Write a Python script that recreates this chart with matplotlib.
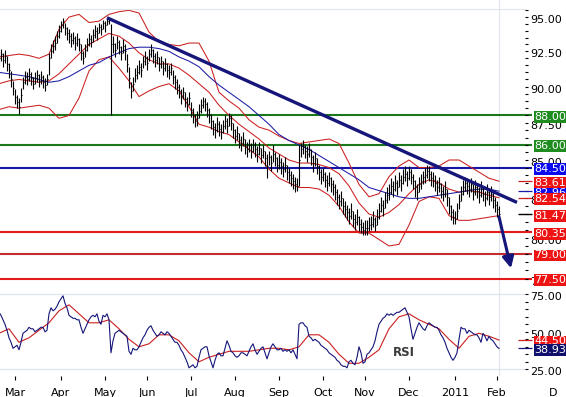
import numpy as np
import pandas as pd
import matplotlib
matplotlib.use("Agg")
import matplotlib.pyplot as plt
from matplotlib.ticker import FixedLocator, NullFormatter

dates = pd.bdate_range("2010-02-17", "2011-02-02")

# daily bars
high = [92.5, 92.7, 92.4, 92.6, 92.2, 91.7, 91.1, 90.4, 89.8, 89.4,
        89.2, 89.9, 90.7, 91.1, 91.0, 91.3, 91.0, 90.7, 91.0, 91.2,
        90.9, 91.1, 90.8, 90.6, 90.9, 92.4, 93.0, 93.3, 93.6, 94.0,
        94.4, 94.7, 94.9, 94.6, 94.3, 94.1, 93.8, 93.9, 93.6, 93.8,
        93.5, 93.0, 92.5, 93.0, 93.5, 93.8, 93.7, 94.1, 94.4, 94.3,
        94.6, 94.5, 94.8, 94.7, 94.9, 95.0, 94.5, 93.6, 93.1, 93.6,
        93.3, 92.9, 93.4, 93.0, 92.3, 91.4, 90.3, 90.7, 91.3, 91.5,
        91.9, 91.7, 92.2, 92.5, 92.2, 92.7, 93.0, 92.7, 92.4, 92.5,
        92.1, 92.2, 91.8, 92.0, 91.7, 91.5, 91.7, 91.2, 90.8, 90.5,
        90.2, 89.8, 90.0, 89.6, 89.3, 89.6, 88.9, 88.5, 88.1, 88.3,
        88.8, 89.1, 89.3, 89.2, 88.9, 88.5, 88.1, 87.7, 87.5, 87.9,
        87.6, 87.4, 87.7, 88.0, 87.8, 88.2, 88.0, 87.5, 87.1, 87.3,
        86.8, 86.6, 86.9, 86.4, 86.2, 86.4, 86.1, 86.4, 86.2, 85.9,
        86.2, 85.8, 86.0, 85.6, 85.4, 85.6, 85.3, 86.0, 85.5, 85.2,
        85.4, 85.1, 84.9, 85.2, 84.7, 84.5, 84.3, 84.1, 83.9, 83.8,
        86.0, 86.1, 86.3, 86.0, 85.9, 86.1, 85.7, 85.3, 85.5, 85.1,
        84.7, 84.4, 84.5, 84.2, 84.0, 84.2, 83.9, 83.7, 83.4, 83.1,
        82.8, 83.0, 82.5, 82.3, 82.1, 81.9, 82.2, 81.7, 81.5, 81.8,
        81.4, 81.2, 81.0, 81.1, 81.1, 81.3, 81.4, 81.7, 81.3, 81.8,
        82.2, 82.6, 82.4, 82.9, 83.2, 83.4, 83.8, 83.6, 84.0, 83.7,
        84.2, 84.0, 84.4, 84.6, 84.3, 84.6, 84.4, 84.1, 83.7, 83.4,
        83.9, 84.1, 84.3, 84.5, 84.7, 84.6, 84.3, 84.2, 84.0, 83.7,
        83.9, 83.5, 83.3, 83.6, 83.1, 82.6, 82.1, 81.8, 81.7, 82.2,
        82.8, 83.3, 83.7, 83.9, 83.8, 83.6, 83.8, 83.4, 83.7, 83.5,
        83.2, 83.6, 83.3, 83.0, 83.4, 83.1, 83.3, 82.9, 82.6, 82.3,
        82.0]
low = [91.5, 91.8, 91.4, 91.7, 91.1, 90.6, 90.0, 89.4, 88.8, 88.5,
       88.1, 88.9, 89.8, 90.2, 90.1, 90.4, 90.1, 89.8, 90.2, 90.3,
       90.0, 90.2, 89.9, 89.7, 90.1, 90.8, 92.0, 92.4, 92.6, 93.1,
       93.5, 93.9, 94.2, 93.7, 93.3, 93.1, 92.8, 93.0, 92.6, 92.9,
       92.5, 91.9, 91.6, 92.1, 92.5, 92.9, 92.8, 93.2, 93.5, 93.3,
       93.8, 93.7, 94.1, 93.9, 94.4, 94.5, 88.0, 92.4, 92.1, 92.7,
       92.3, 91.9, 92.4, 91.9, 91.0, 89.9, 89.2, 89.7, 90.3, 90.5,
       90.9, 90.7, 91.3, 91.5, 91.2, 91.8, 92.1, 91.7, 91.4, 91.6,
       91.1, 91.3, 90.8, 91.1, 90.7, 90.5, 90.8, 90.2, 89.8, 89.5,
       89.2, 88.8, 89.1, 88.6, 88.3, 88.7, 87.9, 87.5, 87.2, 87.3,
       87.8, 88.2, 88.5, 88.3, 87.9, 87.5, 87.1, 86.7, 86.5, 86.9,
       86.6, 86.4, 86.8, 87.1, 86.8, 87.3, 87.0, 86.5, 86.1, 86.3,
       85.8, 85.6, 85.9, 85.4, 85.2, 85.5, 85.1, 85.5, 85.2, 84.9,
       85.3, 84.8, 85.1, 84.6, 83.8, 84.7, 84.3, 84.9, 84.6, 84.2,
       84.4, 84.1, 83.9, 84.2, 83.7, 83.5, 83.3, 83.1, 82.9, 83.0,
       83.3, 85.2, 85.4, 85.1, 84.9, 85.2, 84.7, 84.2, 84.6, 84.1,
       83.7, 83.4, 83.6, 83.2, 83.0, 83.3, 82.9, 82.7, 82.4, 82.1,
       81.8, 82.0, 81.5, 81.3, 81.1, 80.9, 81.2, 80.7, 80.5, 80.8,
       80.4, 80.3, 80.2, 80.2, 80.2, 80.4, 80.5, 80.7, 80.4, 80.8,
       81.2, 81.6, 81.4, 81.9, 82.2, 82.4, 82.8, 82.6, 83.0, 82.7,
       83.2, 83.0, 83.4, 83.6, 83.3, 83.7, 83.4, 83.1, 82.6, 82.4,
       82.9, 83.1, 83.4, 83.5, 83.8, 83.6, 83.3, 83.2, 83.0, 82.7,
       82.9, 82.5, 82.3, 82.6, 82.0, 81.5, 81.1, 80.9, 80.9, 81.2,
       81.8, 82.3, 82.7, 83.0, 82.8, 82.6, 82.9, 82.4, 82.7, 82.5,
       82.2, 82.6, 82.3, 82.0, 82.4, 82.1, 82.3, 81.9, 81.6, 81.3,
       81.3]
close = [92.0, 92.3, 91.9, 92.2, 91.6, 91.2, 90.5, 89.9, 89.3, 88.9,
         88.6, 89.4, 90.3, 90.7, 90.5, 90.9, 90.6, 90.2, 90.6, 90.8,
         90.4, 90.7, 90.3, 90.1, 90.5, 92.0, 92.5, 92.9, 93.1, 93.6,
         94.0, 94.4, 94.7, 94.2, 93.8, 93.6, 93.3, 93.5, 93.1, 93.4,
         93.0, 92.4, 92.0, 92.6, 93.0, 93.4, 93.2, 93.7, 94.0, 93.8,
         94.3, 94.1, 94.6, 94.4, 94.7, 94.8, 93.0, 93.0, 92.6, 93.2,
         92.8, 92.4, 92.9, 92.5, 91.6, 90.6, 89.7, 90.2, 90.8, 91.0,
         91.4, 91.2, 91.8, 92.0, 91.7, 92.3, 92.6, 92.2, 91.9, 92.1,
         91.6, 91.8, 91.3, 91.6, 91.2, 91.0, 91.3, 90.7, 90.3, 90.0,
         89.7, 89.3, 89.6, 89.1, 88.8, 89.2, 88.4, 88.0, 87.6, 87.8,
         88.3, 88.7, 89.0, 88.8, 88.4, 88.0, 87.6, 87.2, 87.0, 87.4,
         87.1, 86.9, 87.3, 87.6, 87.3, 87.8, 87.5, 87.0, 86.6, 86.8,
         86.3, 86.1, 86.4, 85.9, 85.7, 86.0, 85.6, 86.0, 85.7, 85.4,
         85.8, 85.3, 85.6, 85.1, 84.6, 85.2, 84.8, 85.4, 85.1, 84.7,
         84.9, 84.6, 84.4, 84.7, 84.2, 84.0, 83.8, 83.6, 83.4, 83.3,
         85.0, 85.7, 85.9, 85.6, 85.4, 85.7, 85.2, 84.8, 85.1, 84.6,
         84.2, 83.9, 84.1, 83.7, 83.5, 83.8, 83.4, 83.2, 82.9, 82.6,
         82.3, 82.5, 82.0, 81.8, 81.6, 81.4, 81.7, 81.2, 81.0, 81.3,
         80.9, 80.7, 80.5, 80.6, 80.6, 80.8, 80.9, 81.2, 80.8, 81.3,
         81.7, 82.1, 81.9, 82.4, 82.7, 82.9, 83.3, 83.1, 83.5, 83.2,
         83.7, 83.5, 83.9, 84.1, 83.8, 84.2, 83.9, 83.6, 83.2, 82.9,
         83.4, 83.6, 83.9, 84.0, 84.3, 84.1, 83.8, 83.7, 83.5, 83.2,
         83.4, 83.0, 82.8, 83.1, 82.6, 82.0, 81.6, 81.3, 81.2, 81.7,
         82.3, 82.8, 83.2, 83.5, 83.3, 83.1, 83.4, 82.9, 83.2, 83.0,
         82.7, 83.1, 82.8, 82.5, 82.9, 82.6, 82.8, 82.4, 82.1, 81.8,
         81.47]

# bollinger bands and moving average, read every 5th bar
band_step = 5
upper = [92.1, 92.2, 92.3, 92.2, 92.0, 92.3, 94.1, 95.0, 95.2, 94.6,
         94.7, 95.2, 95.4, 95.5, 95.3, 93.9, 93.2, 93.0, 92.9, 93.1,
         93.1, 91.8, 89.6, 89.0, 88.5, 87.7, 87.2, 87.0, 86.6, 86.3,
         86.1, 86.2, 86.3, 86.4, 86.1, 84.8, 83.4, 82.6, 82.8, 83.9,
         84.6, 85.0, 84.5, 84.5, 84.6, 85.0, 85.0, 84.6, 84.2, 83.8,
         83.61]
middle = [90.2, 90.4, 90.5, 90.4, 90.3, 90.4, 90.9, 91.6, 92.3, 93.0,
          93.4, 93.8, 93.6, 93.1, 92.4, 91.9, 91.6, 91.6, 91.3, 90.8,
          90.2, 89.6, 88.7, 88.0, 87.4, 86.9, 86.4, 85.8, 85.4, 85.0,
          84.8, 84.8, 84.7, 84.5, 84.1, 83.3, 82.2, 81.5, 81.3, 81.6,
          82.1, 82.8, 83.4, 83.7, 83.5, 83.1, 82.9, 83.0, 82.9, 82.7,
          82.54]
lower = [88.4, 88.6, 88.5, 88.6, 88.7, 88.5, 87.8, 88.0, 89.2, 91.1,
         91.9, 92.1, 91.3, 90.4, 89.3, 89.7, 90.0, 90.2, 89.7, 88.6,
         87.4, 87.2, 86.9, 86.7, 86.2, 85.7, 85.2, 84.4, 83.8, 83.5,
         83.2, 83.2, 83.1, 82.7, 82.0, 81.0, 80.3, 80.3, 79.9, 79.5,
         79.6, 80.8, 82.3, 82.6, 82.5, 81.4, 81.1, 81.1, 81.2, 81.3,
         81.4]
ma = [91.0, 90.9, 90.8, 90.7, 90.5, 90.3, 90.4, 90.7, 91.1, 91.5,
      91.7, 92.1, 92.4, 92.7, 92.8, 92.8, 92.7, 92.5, 92.1, 91.8,
      91.4, 90.7, 90.1, 89.6, 89.1, 88.6, 88.0, 87.4, 86.7, 86.3,
      86.0, 85.7, 85.3, 84.9, 84.5, 84.1, 83.7, 83.2, 83.0, 82.8,
      82.6, 82.5, 82.5, 82.6, 82.7, 82.8, 82.9, 83.0, 83.1, 83.1,
      82.96]

rsi = [63, 61, 58, 55, 51, 46, 43, 39, 40, 41,
       38, 43, 49, 50, 51, 53, 52, 52, 50, 51,
       52, 53, 53, 50, 51, 62, 66, 64, 65, 67,
       70, 72, 74, 69, 66, 61, 60, 59, 59, 58,
       58, 53, 49, 52, 55, 58, 60, 61, 60, 62,
       57, 55, 61, 60, 62, 58, 36, 44, 49, 50,
       51, 50, 49, 48, 47, 37, 35, 39, 38, 38,
       40, 43, 46, 48, 51, 53, 54, 51, 49, 47,
       48, 50, 49, 48, 50, 49, 47, 45, 43, 43,
       41, 38, 36, 33, 30, 26, 27, 28, 26, 27,
       33, 38, 39, 40, 40, 34, 30, 26, 31, 35,
       36, 34, 34, 39, 44, 41, 37, 36, 34, 33,
       34, 36, 36, 35, 34, 37, 40, 42, 38, 35,
       37, 39, 40, 36, 32, 36, 40, 42, 40, 38,
       38, 39, 37, 38, 37, 38, 36, 38, 35, 32,
       55, 56, 56, 54, 53, 47, 46, 44, 45, 44,
       43, 41, 40, 39, 38, 36, 35, 34, 33, 31,
       30, 28, 27, 27, 26, 30, 31, 29, 28, 33,
       40, 36, 29, 30, 35, 36, 38, 40, 44, 50,
       55, 57, 59, 60, 62, 61, 62, 61, 62, 63,
       63, 64, 65, 66, 63, 60, 52, 45, 49, 53,
       56, 54, 52, 51, 54, 56, 55, 54, 53, 53,
       51, 48, 46, 43, 39, 36, 33, 31, 33, 36,
       45, 53, 52, 52, 49, 51, 50, 49, 48, 48,
       46, 43, 49, 47, 44, 47, 45, 44, 42, 40,
       38.93]
rsi_ma = [49, 52, 43, 46, 51, 56, 64, 68, 62, 56,
          56, 58, 52, 45, 40, 42, 48, 48, 44, 36,
          30, 33, 35, 37, 37, 37, 38, 39, 39, 38,
          40, 48, 48, 43, 35, 29, 29, 33, 38, 52,
          60, 62, 58, 55, 52, 45, 39, 47, 49, 47,
          44.50]
rsi_levels = [25, 75]

levels = [88.00, 86.00, 84.50, 80.35, 79.00, 77.50]
level_colors = ["#1b771b", "#1b771b", "#1616a6", "#e31b1b", "#c42a2e", "#e31b1b"]
level_boxes = ["#1f8c1f", "#1f8c1f", "#0b0bf0", "#ef1414", "#ef1414", "#ef1414"]

trend_dates = ["2010-05-04", "2011-02-15"]
trend_values = [94.95, 82.24]
arrow_dates = ["2011-02-02", "2011-02-10"]
arrow_values = [81.32, 78.13]

RED = "#cc1f1f"
BLUE = "#1c1ca6"
NAVY = "#15157a"
GRID = "#dfe5ec"


def pos(d):
    return np.busday_count("2010-02-17", d)


def tag(a, y, text, fc, dy=-1.0):
    a.annotate(text, xy=(1, y), xycoords=("axes fraction", "data"),
               xytext=(6.8, dy), textcoords="offset points",
               ha="left", va="center", fontsize=8, color="white",
               bbox=dict(boxstyle="square,pad=0.08", fc=fc, ec="none"),
               annotation_clip=False, zorder=8)


def plain(a, y, text):
    a.annotate(text, xy=(1, y), xycoords=("axes fraction", "data"),
               xytext=(3.6, -2.2), textcoords="offset points",
               ha="left", va="center", fontsize=8, color="black",
               annotation_clip=False)


x = np.arange(len(dates))
xb = np.arange(0, len(dates), band_step)
x0, x1 = 0.5, 263
stub0, stub1 = 259.5, 266.5

fig = plt.figure(figsize=(5.66, 3.97), dpi=100)
ax = fig.add_axes([0, 113 / 397, 525 / 566, 275 / 397])
ax2 = fig.add_axes([0, 21 / 397, 525 / 566, 91 / 397])

# ---- price panel
ax.set_yscale("log")
ax.set_xlim(x0, x1)
ax.set_ylim(77.18, 95.60)

ax.hlines(levels, x0, stub1, colors=level_colors, lw=1.5, clip_on=False, zorder=1)
ax.vlines(x, low, high, color="black", lw=0.8, zorder=3)
ax.hlines(close, x, x + 0.6, color="black", lw=0.8, zorder=3)
ax.plot(xb, upper, color=RED, lw=0.75, zorder=2)
ax.plot(xb, middle, color=RED, lw=0.75, zorder=2)
ax.plot(xb, lower, color=RED, lw=0.75, zorder=2)
ax.plot(xb, ma, color=BLUE, lw=0.75, zorder=2)
ax.axvline(x[-1], ymin=0, ymax=1.033, color=GRID, lw=0.8, clip_on=False, zorder=0)

ax.plot([pos(d) for d in trend_dates], trend_values, color=NAVY, lw=2.4,
        solid_capstyle="butt", zorder=5)
ax.annotate("", xy=(pos(arrow_dates[1]), arrow_values[1]),
            xytext=(pos(arrow_dates[0]), arrow_values[0]),
            arrowprops=dict(arrowstyle="-|>", color=NAVY, lw=2.2, mutation_scale=17,
                            shrinkA=0, shrinkB=0), zorder=6)

# last value stubs
ax.hlines([upper[-1], middle[-1]], stub0, stub1, colors=RED, lw=0.9, clip_on=False)
ax.hlines(ma[-1], stub0, stub1, colors=BLUE, lw=0.9, clip_on=False)
ax.hlines(close[-1], stub0, stub1, colors="black", lw=1.0, clip_on=False)

main_ticks = [77.5, 80.0, 82.5, 85.0, 87.5, 90.0, 92.5, 95.0]
ax.yaxis.tick_right()
ax.yaxis.set_major_locator(FixedLocator(main_ticks))
ax.yaxis.set_minor_locator(FixedLocator(np.arange(77.5, 95.6, 0.5)))
ax.yaxis.set_major_formatter(NullFormatter())
ax.yaxis.set_minor_formatter(NullFormatter())
ax.tick_params(axis="y", which="both", length=2.2, width=0.8, direction="out")
ax.tick_params(axis="x", which="both", bottom=False, labelbottom=False)
for s in ["left", "right", "bottom"]:
    ax.spines[s].set_visible(False)
ax.spines["top"].set_color(GRID)
ax.spines["top"].set_linewidth(0.8)

for v in main_ticks:
    plain(ax, v, f"{v:.2f}")
for v, c in zip(levels, level_boxes):
    tag(ax, v, f"{v:.2f}", c)
tag(ax, ma[-1], f"{ma[-1]:.2f}", "#0b0bf0")
tag(ax, upper[-1], f"{upper[-1]:.2f}", "#ef1414")
tag(ax, middle[-1], f"{middle[-1]:.2f}", "#ef1414")
tag(ax, close[-1], f"{close[-1]:.2f}", "#ef1414")

# ---- RSI panel
ax2.set_xlim(x0, x1)
ax2.set_ylim(20.53, 81.2)
for lv in rsi_levels:
    ax2.axhline(lv, color=GRID, lw=0.9, zorder=0)
ax2.axvline(x[-1], color=GRID, lw=0.8, zorder=0)
ax2.plot(xb, rsi_ma, color=RED, lw=0.8, zorder=2)
ax2.plot(x, rsi, color=NAVY, lw=0.8, zorder=3)
ax2.hlines(rsi_ma[-1], stub0, stub1, colors=RED, lw=0.9, clip_on=False)
ax2.hlines(rsi[-1], stub0, stub1, colors=NAVY, lw=0.9, clip_on=False)
ax2.text(202.5, 36.5, "RSI", fontsize=8.5, fontweight="bold", color="#3a3a3a",
         ha="center", va="center")

ax2.yaxis.tick_right()
ax2.yaxis.set_major_locator(FixedLocator([25, 50, 75]))
ax2.yaxis.set_minor_locator(FixedLocator(np.arange(25, 80, 5)))
ax2.yaxis.set_major_formatter(NullFormatter())
ax2.tick_params(axis="y", which="both", length=2.2, width=0.8, direction="out")
for s in ax2.spines.values():
    s.set_visible(False)
for v in [25, 50, 75]:
    plain(ax2, v, f"{v:.2f}")
tag(ax2, rsi_ma[-1], f"{rsi_ma[-1]:.2f}", "#ef1414")
tag(ax2, rsi[-1], f"{rsi[-1]:.2f}", "#10106c")

month_pos = [i for i in range(1, len(dates)) if dates[i].month != dates[i - 1].month]
month_lab = ["2011" if dates[i].month == 1 else dates[i].strftime("%b") for i in month_pos]
ax2.set_xticks(month_pos)
ax2.set_xticklabels(month_lab, fontsize=8)
ax2.tick_params(axis="x", length=2.9, width=0.8, pad=5.5, direction="out")
ax2.annotate("D", xy=(277, 0), xycoords=("data", "axes fraction"), xytext=(0, -8.4),
             textcoords="offset points", ha="center", va="top", fontsize=8,
             annotation_clip=False)

fig.savefig("out.png", dpi=100, facecolor="white")
